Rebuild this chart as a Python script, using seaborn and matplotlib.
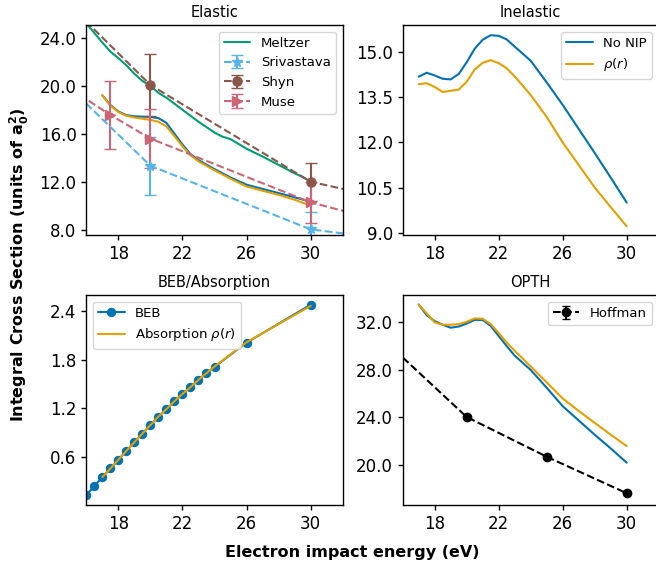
import numpy as np
import pandas as pd
import matplotlib
matplotlib.use("Agg")
import matplotlib.pyplot as plt
import seaborn as sns
from matplotlib.ticker import FormatStrFormatter

# ---------------- data ----------------
x_meltzer = [16, 16.5, 17, 17.5, 18, 18.5, 19, 19.5, 20, 20.5, 21, 22, 23, 24, 24.5, 25, 26, 27, 28, 29, 29.5, 30]
y_meltzer = [25.2, 24.4, 23.6, 22.85, 22.3, 21.7, 21.0, 20.4, 20.0, 19.4, 19.0, 18.0, 17.0, 16.1, 15.75, 15.55,
             14.75, 14.1, 13.4, 12.7, 12.4, 12.0]

x_theory = [17, 17.5, 18, 18.5, 19, 19.5, 20, 20.5, 21, 21.5, 22, 22.5, 23, 24, 25, 26, 27, 28, 29, 30]
el_nonip = [19.2, 18.4, 17.85, 17.55, 17.45, 17.42, 17.4, 17.3, 16.9, 16.0, 15.1, 14.3, 13.8, 13.05, 12.35,
            11.75, 11.4, 11.05, 10.7, 10.33]
el_rho = [19.2, 18.35, 17.8, 17.5, 17.35, 17.25, 17.15, 17.0, 16.6, 15.8, 14.95, 14.2, 13.7, 12.95, 12.25,
          11.6, 11.25, 10.9, 10.5, 10.0]

x_sriv = [15, 20, 30, 35]
y_sriv = [19.8, 13.33, 8.03, 7.2]
e_sriv = [2.5, 2.4, 1.47, 1.4]

x_shyn = [15, 20, 30, 35]
y_shyn = [26.66, 20.06, 12.0, 10.5]
e_shyn = [3.0, 2.6, 1.58, 1.5]

x_muse = [15, 17.5, 20, 30, 35]
y_muse = [19.75, 17.56, 15.6, 10.28, 8.53]
e_muse = [3.0, 2.83, 2.47, 1.7, 1.5]

inel_nonip = [14.19, 14.32, 14.23, 14.12, 14.1, 14.28, 14.67, 15.12, 15.42, 15.57, 15.55, 15.43, 15.19, 14.72,
              14.0, 13.25, 12.45, 11.65, 10.83, 10.0]
inel_rho = [13.94, 13.97, 13.85, 13.68, 13.72, 13.76, 14.02, 14.43, 14.65, 14.74, 14.64, 14.47, 14.2, 13.58,
            12.85, 12.0, 11.25, 10.5, 9.85, 9.21]

x_beb = [16, 16.5, 17, 17.5, 18, 18.5, 19, 19.5, 20, 20.5, 21, 21.5, 22, 22.5, 23, 23.5, 24, 26, 30]
y_beb = [0.122, 0.237, 0.345, 0.452, 0.56, 0.67, 0.778, 0.885, 0.99, 1.095, 1.187, 1.285, 1.376, 1.459,
         1.55, 1.632, 1.71, 2.01, 2.48]
x_abs = [17, 17.5, 18, 18.5, 19, 19.5, 20, 20.5, 21, 21.5, 22, 22.5, 23, 23.5, 24, 26, 30]
y_abs = [0.345, 0.452, 0.56, 0.67, 0.778, 0.885, 0.99, 1.095, 1.187, 1.285, 1.376, 1.459, 1.55, 1.632,
         1.715, 2.015, 2.465]

opth_nonip = [33.5, 32.6, 32.1, 31.8, 31.55, 31.65, 31.9, 32.2, 32.2, 31.7, 30.85, 30.0, 29.2, 28.0, 26.5,
              24.95, 23.75, 22.55, 21.4, 20.2]
opth_rho = [33.5, 32.75, 32.0, 31.8, 31.8, 31.85, 32.05, 32.33, 32.3, 31.85, 31.1, 30.3, 29.6, 28.3, 26.95,
            25.6, 24.55, 23.55, 22.55, 21.6]

x_hoff = [15, 20, 25, 30]
y_hoff = [30.3, 24.04, 20.7, 17.63]
e_hoff = [0.1, 0.1, 0.1, 0.1]

xticks = [18, 22, 26, 30]

# ---------------- style ----------------
sns.set_style("ticks", {"text.color": "black", "axes.labelcolor": "black", "xtick.color": "black",
                        "ytick.color": "black", "axes.edgecolor": "black"})
plt.rcParams['font.family'] = ['DejaVu Sans']
plt.rcParams['mathtext.fontset'] = 'dejavusans'
plt.rcParams['axes.linewidth'] = 1.0

BLUE = '#0072B2'
ORANGE = '#E69F00'
GREEN = '#009E73'
LBLUE = '#56B4E9'
BROWN = '#8C564B'
PINK = '#CC6677'

W, H = 656, 569
fig = plt.figure(figsize=(W / 100, H / 100), dpi=100)


def add_ax(x0, y0, x1, y1):
    return fig.add_axes([x0 / W, 1 - y1 / H, (x1 - x0) / W, (y1 - y0) / H])


ax_el = add_ax(86.3, 25, 342.7, 235)
ax_in = add_ax(402.7, 25, 658.7, 235)
ax_beb = add_ax(86.3, 295, 342.7, 505)
ax_op = add_ax(402.7, 295, 658.7, 505)

TICK_FS = 12
TITLE_FS = 10.5
LEG_FS = 9.5

# Elastic
sns.lineplot(x=x_meltzer, y=y_meltzer, ax=ax_el, color=GREEN, lw=1.5, label='Meltzer')
sns.lineplot(x=x_theory, y=el_nonip, ax=ax_el, color=BLUE, lw=1.5)
sns.lineplot(x=x_theory, y=el_rho, ax=ax_el, color=ORANGE, lw=1.5)
ax_el.errorbar(x_sriv, y_sriv, yerr=e_sriv, color=LBLUE, ls='--', marker='*', ms=7, capsize=4,
               lw=1.5, label='Srivastava')
ax_el.errorbar(x_shyn, y_shyn, yerr=e_shyn, color=BROWN, ls='--', marker='o', ms=6.5, capsize=4,
               lw=1.5, label='Shyn')
ax_el.errorbar(x_muse, y_muse, yerr=e_muse, color=PINK, ls='--', marker='>', ms=6.5, capsize=4,
               lw=1.5, label='Muse')
ax_el.set_ylim(7.56, 25.06)
ax_el.set_yticks([8, 12, 16, 20, 24])
ax_el.set_title('Elastic', fontsize=TITLE_FS)
ax_el.legend(loc='upper right', fontsize=LEG_FS)

# Inelastic
sns.lineplot(x=x_theory, y=inel_nonip, ax=ax_in, color=BLUE, lw=1.5, label='No NIP')
sns.lineplot(x=x_theory, y=inel_rho, ax=ax_in, color=ORANGE, lw=1.5, label=r'$\rho(r)$')
ax_in.set_ylim(8.92, 15.91)
ax_in.set_yticks([9.0, 10.5, 12.0, 13.5, 15.0])
ax_in.set_title('Inelastic', fontsize=TITLE_FS)
ax_in.legend(loc='upper right', fontsize=LEG_FS)

# BEB / Absorption
sns.lineplot(x=x_beb, y=y_beb, ax=ax_beb, color=BLUE, lw=1.5, marker='o', ms=6, mec=BLUE,
             label='BEB')
sns.lineplot(x=x_abs, y=y_abs, ax=ax_beb, color=ORANGE, lw=1.5, label=r'Absorption $\rho(r)$')
ax_beb.set_ylim(0.0, 2.6)
ax_beb.set_yticks([0.6, 1.2, 1.8, 2.4])
ax_beb.set_title('BEB/Absorption', fontsize=TITLE_FS)
ax_beb.legend(loc='upper left', fontsize=LEG_FS)

# OPTH
sns.lineplot(x=x_theory, y=opth_nonip, ax=ax_op, color=BLUE, lw=1.5)
sns.lineplot(x=x_theory, y=opth_rho, ax=ax_op, color=ORANGE, lw=1.5)
ax_op.errorbar(x_hoff, y_hoff, yerr=e_hoff, color='black', ls='--', marker='o', ms=6, capsize=3,
               lw=1.5, label='Hoffman')
ax_op.set_ylim(16.64, 34.3)
ax_op.set_yticks([20, 24, 28, 32])
ax_op.set_title('OPTH', fontsize=TITLE_FS)
ax_op.legend(loc='upper right', fontsize=LEG_FS)

for ax in (ax_el, ax_in, ax_beb, ax_op):
    ax.set_xlim(16, 32)
    ax.set_xticks(xticks)
    ax.xaxis.set_major_formatter(FormatStrFormatter('%d'))
    ax.yaxis.set_major_formatter(FormatStrFormatter('%.1f'))
    ax.tick_params(labelsize=TICK_FS, length=3.5, width=1.0)
    ax.set_xlabel('')
    ax.set_ylabel('')

fig.text(352 / W, 1 - 553 / H, 'Electron impact energy (eV)', ha='center', va='center',
         fontsize=11.5, fontweight='bold')
fig.text(19 / W, 1 - 265 / H, r'Integral Cross Section (units of $\mathbf{a_0^2}$)', ha='center',
         va='center', rotation=90, fontsize=11.5, fontweight='bold')

fig.savefig('out.png', dpi=100)
